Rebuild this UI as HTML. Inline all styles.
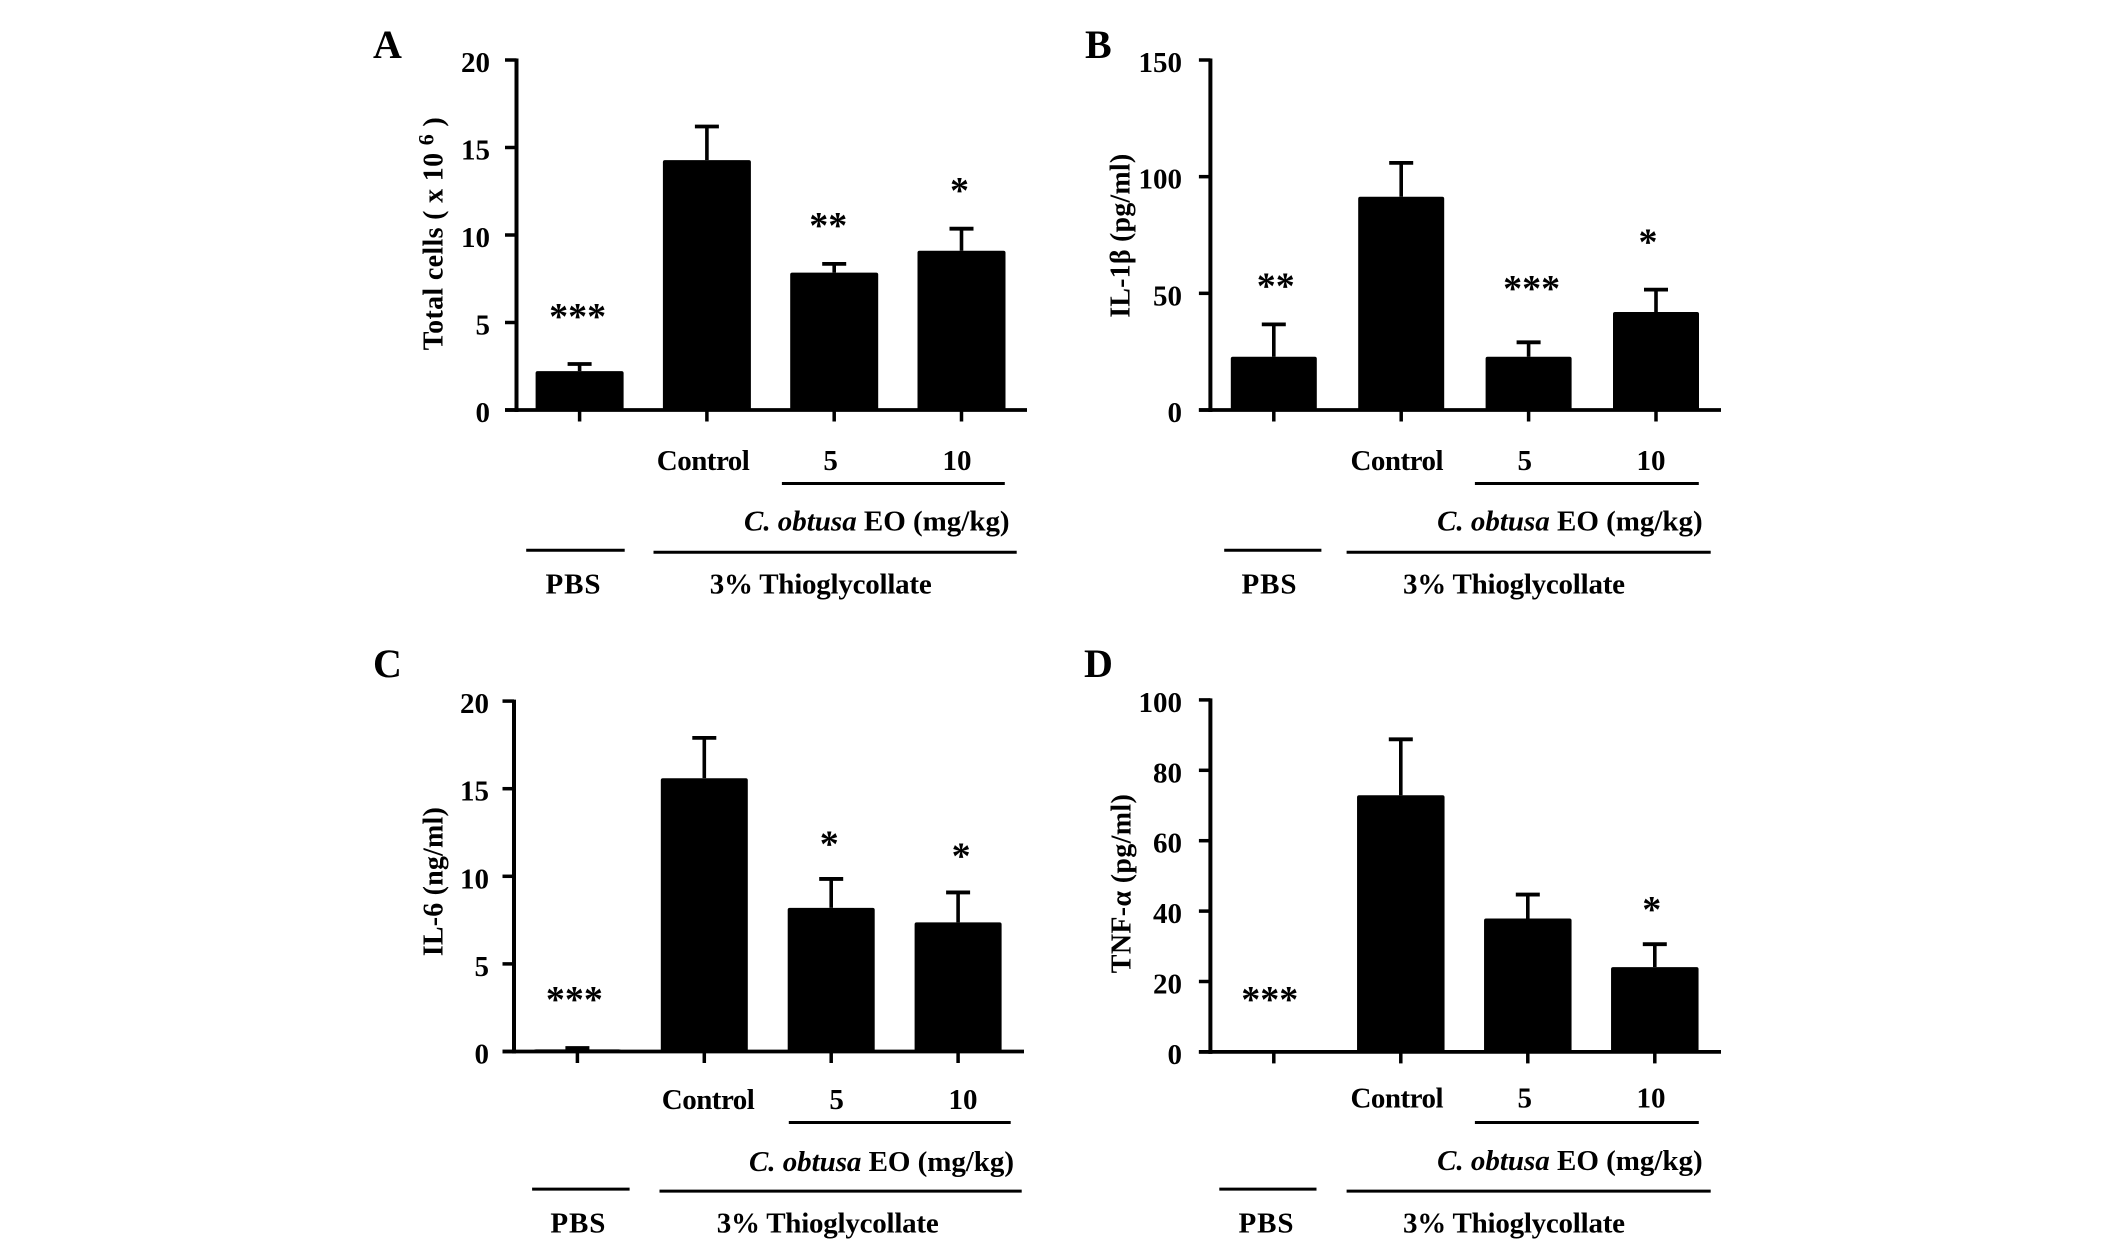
<!DOCTYPE html>
<html lang="en">
<head>
<meta charset="utf-8">
<title>Effects of C. obtusa EO on cells and cytokines</title>
<style>
html,body{margin:0;padding:0;background:#fff;}
svg{display:block;}
text{font-family:"Liberation Serif",serif;font-weight:bold;fill:#000;}
.lbl{font-size:29px;}
.ttl{font-size:28px;}
.panel{font-size:40px;}
.star{font-size:38px;font-weight:bold;text-anchor:middle;}
.mid{text-anchor:middle;}
.end{text-anchor:end;}
line.rule{stroke:#000;stroke-width:3;}
</style>
</head>
<body>
<svg id="figure" xmlns="http://www.w3.org/2000/svg" width="2126" height="1246" viewBox="0 0 2126 1246">
<rect width="2126" height="1246" fill="#fff"/>

<g id="panel-a">
<text class="panel" x="373" y="58">A</text>
<text class="ttl mid" transform="translate(442.6 233.8) rotate(-90)" textLength="233">Total cells ( x 10 <tspan font-size="22" dy="-9">6</tspan><tspan dy="9"> )</tspan></text>
<text class="lbl mid" x="703.3" y="470" textLength="93">Control</text>
<text class="lbl mid" x="830.6" y="470">5</text>
<text class="lbl mid" x="957" y="470">10</text>
<line class="rule" x1="781.9" x2="1004.8" y1="483.5" y2="483.5"/>
<text class="lbl" x="744" y="530.3" textLength="265.6"><tspan font-style="italic">C. obtusa</tspan> EO (mg/kg)</text>
<line class="rule" x1="526.2" x2="624.7" y1="550.2" y2="550.2"/>
<line class="rule" x1="653.5" x2="1016.7" y1="552.2" y2="552.2"/>
<text class="lbl mid" x="573" y="593.5" textLength="55">PBS</text>
<text class="lbl mid" x="820.7" y="593.5" textLength="222">3% Thioglycollate</text>
</g>

<g id="panel-b">
<text class="panel" x="1085" y="58">B</text>
<text class="ttl mid" transform="translate(1129.7 235.8) rotate(-90)" textLength="164">IL-1β (pg/ml)</text>
<text class="lbl mid" x="1397" y="470" textLength="93">Control</text>
<text class="lbl mid" x="1524.7" y="470">5</text>
<text class="lbl mid" x="1651" y="470">10</text>
<line class="rule" x1="1474.9" x2="1698.8" y1="483.5" y2="483.5"/>
<text class="lbl" x="1437.1" y="530.3" textLength="265.6"><tspan font-style="italic">C. obtusa</tspan> EO (mg/kg)</text>
<line class="rule" x1="1224.2" x2="1321.4" y1="550.2" y2="550.2"/>
<line class="rule" x1="1346.6" x2="1710.7" y1="552.2" y2="552.2"/>
<text class="lbl mid" x="1269" y="593.5" textLength="55">PBS</text>
<text class="lbl mid" x="1514" y="593.5" textLength="222">3% Thioglycollate</text>
</g>

<g id="panel-c">
<text class="panel" x="373" y="677">C</text>
<text class="ttl mid" transform="translate(442.6 881.7) rotate(-90)" textLength="149">IL-6 (ng/ml)</text>
<text class="lbl mid" x="708.3" y="1109" textLength="93">Control</text>
<text class="lbl mid" x="836.6" y="1109">5</text>
<text class="lbl mid" x="963" y="1109">10</text>
<line class="rule" x1="788.8" x2="1010.7" y1="1122.5" y2="1122.5"/>
<text class="lbl" x="749" y="1171.2" textLength="265"><tspan font-style="italic">C. obtusa</tspan> EO (mg/kg)</text>
<line class="rule" x1="532.1" x2="629.6" y1="1189.1" y2="1189.1"/>
<line class="rule" x1="659.5" x2="1021.7" y1="1191.1" y2="1191.1"/>
<text class="lbl mid" x="577.9" y="1232.5" textLength="55">PBS</text>
<text class="lbl mid" x="827.7" y="1232.5" textLength="222">3% Thioglycollate</text>
</g>

<g id="panel-d">
<text class="panel" x="1084" y="677">D</text>
<text class="ttl mid" transform="translate(1130.7 883.7) rotate(-90)" textLength="179">TNF-α (pg/ml)</text>
<text class="lbl mid" x="1397" y="1107.5" textLength="93">Control</text>
<text class="lbl mid" x="1524.7" y="1107.5">5</text>
<text class="lbl mid" x="1651" y="1107.5">10</text>
<line class="rule" x1="1474.9" x2="1698.8" y1="1122.5" y2="1122.5"/>
<text class="lbl" x="1437.1" y="1170.2" textLength="265.6"><tspan font-style="italic">C. obtusa</tspan> EO (mg/kg)</text>
<line class="rule" x1="1219.3" x2="1316.5" y1="1189.1" y2="1189.1"/>
<line class="rule" x1="1346.6" x2="1710.7" y1="1191.1" y2="1191.1"/>
<text class="lbl mid" x="1266" y="1232.5" textLength="55">PBS</text>
<text class="lbl mid" x="1514" y="1232.5" textLength="222">3% Thioglycollate</text>
</g>
</svg>

<script>
var categories = ['PBS', 'Control', '5', '10'];

var ticksA = [0, 5, 10, 15, 20];
var meansA = [2.22, 14.28, 7.85, 9.1];
var errorsA = [2.63, 16.2, 8.35, 10.36];
var marksA = ['***', '', '**', '*'];
var markLevelsA = [5.5, 0, 10.7, 12.7];

var ticksB = [0, 50, 100, 150];
var meansB = [22.8, 91.4, 22.8, 42];
var errorsB = [36.7, 105.9, 29, 51.6];
var marksB = ['**', '', '***', '*'];
var markLevelsB = [54.3, 0, 53.1, 73];

var ticksC = [0, 5, 10, 15, 20];
var meansC = [0.12, 15.6, 8.2, 7.37];
var errorsC = [0.2, 17.9, 9.85, 9.08];
var marksC = ['***', '', '*', '*'];
var markLevelsC = [3.1, 0, 12, 11.3];

var ticksD = [0, 20, 40, 60, 80, 100];
var meansD = [0, 72.9, 37.9, 24.1];
var errorsD = [0, 88.8, 44.7, 30.6];
var marksD = ['***', '', '', '*'];
var markLevelsD = [15.6, 0, 0, 41.2];

var NS = 'http://www.w3.org/2000/svg';

function svgEl(parent, tag, attrs) {
  var el = document.createElementNS(NS, tag);
  for (var k in attrs) { el.setAttribute(k, attrs[k]); }
  parent.appendChild(el);
  return el;
}

function drawPanel(id, frame, ticks, means, errors, marks, markLevels) {
  var g = document.getElementById('panel-' + id);
  var maxTick = ticks[ticks.length - 1];
  var y = function (v) { return frame.bottom - (v / maxTick) * (frame.bottom - frame.top); };
  var x = function (i) { return frame.firstX + i * frame.step; };

  categories.forEach(function (cat, i) {
    if (errors[i] > 0) {
      var stem = svgEl(g, 'line', {x1: x(i), x2: x(i), y1: y(means[i]), y2: y(errors[i]), stroke: '#000', 'stroke-width': 3.6});
      
      
      var cap = svgEl(g, 'line', {x1: x(i) - 12, x2: x(i) + 12, y1: y(errors[i]), y2: y(errors[i]), stroke: '#000', 'stroke-width': 3.8});
      
      
    }
    var bar = svgEl(g, 'rect', {x: x(i) - frame.barWidth / 2, width: frame.barWidth, y: y(means[i]), height: frame.bottom - y(means[i]), fill: '#000', rx: 2});
    
    
    var xTick = svgEl(g, 'line', {x1: x(i), x2: x(i), y1: frame.bottom, y2: frame.bottom + 11.5, stroke: '#000', 'stroke-width': 3.5});
    
    
    if (marks[i]) {
      var star = svgEl(g, 'text', {'class': 'star', x: x(i) + frame.markShift[i], y: y(markLevels[i]) + 15});
      
      
      star.textContent = marks[i];
    }
  });

  var yAxis = svgEl(g, 'line', {x1: frame.axisX, x2: frame.axisX, y1: frame.top - 1.5, y2: frame.bottom + 2, stroke: '#000', 'stroke-width': 4});
  
  
  var xAxis = svgEl(g, 'line', {x1: frame.axisX - 11.5, x2: frame.axisEnd, y1: frame.bottom, y2: frame.bottom, stroke: '#000', 'stroke-width': 3.8});
  
  

  ticks.forEach(function (t) {
    var tick = svgEl(g, 'line', {x1: frame.axisX - 11.5, x2: frame.axisX, y1: y(t), y2: y(t), stroke: '#000', 'stroke-width': 3.5});
    
    
    var label = svgEl(g, 'text', {'class': 'lbl end', x: frame.labelX, y: y(t) + 12});
    
    
    label.textContent = t;
  });
}

drawPanel('a', {axisX: 516.5, axisEnd: 1027, top: 60, bottom: 410, firstX: 579.6, step: 127.3, barWidth: 88, labelX: 490, markShift: [-2, 0, -6, -2]}, ticksA, meansA, errorsA, marksA, markLevelsA);
drawPanel('b', {axisX: 1210.4, axisEnd: 1721, top: 60, bottom: 410, firstX: 1273.8, step: 127.4, barWidth: 86, labelX: 1182, markShift: [2, 0, 3, -8]}, ticksB, meansB, errorsB, marksB, markLevelsB);
drawPanel('c', {axisX: 514, axisEnd: 1024, top: 701.1, bottom: 1051.5, firstX: 577.4, step: 126.9, barWidth: 87, labelX: 489, markShift: [-3, 0, -2, 3]}, ticksC, meansC, errorsC, marksC, markLevelsC);
drawPanel('d', {axisX: 1210.4, axisEnd: 1721, top: 699.9, bottom: 1051.9, firstX: 1273.8, step: 127, barWidth: 87.5, labelX: 1182, markShift: [-4, 0, 0, -3]}, ticksD, meansD, errorsD, marksD, markLevelsD);
</script>
</body>
</html>
